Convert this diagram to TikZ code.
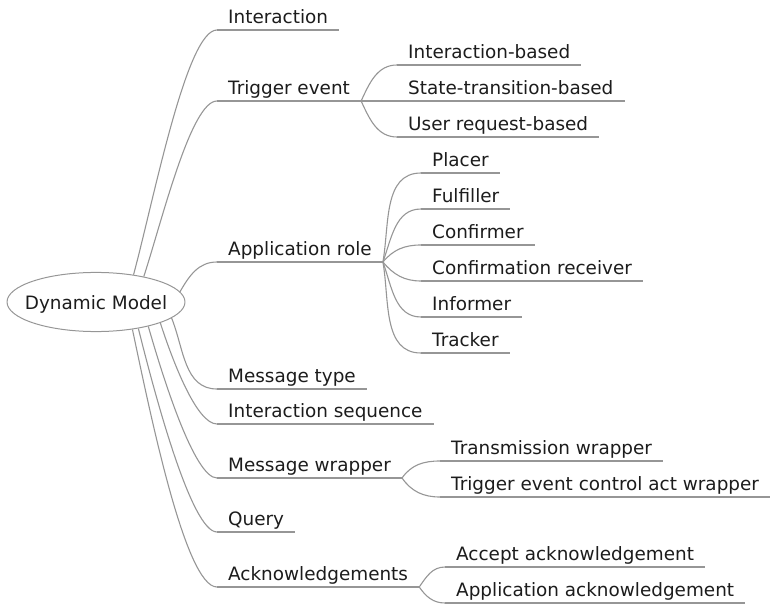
\documentclass[tikz,border=0pt]{standalone}
\usepackage{fontspec}
\setmainfont{DejaVu Sans}
\usepackage{tikz}
\usepackage{color}
\usetikzlibrary{shapes.geometric}

\definecolor{edgegray}{RGB}{150,150,150}
\definecolor{textgray}{RGB}{28,28,28}

\tikzset{
  topic/.style={anchor=south west, inner xsep=11pt, inner ysep=0pt, text height=14pt, text depth=6pt, text=textgray, font=\fontsize{18.4}{22}\selectfont},
  branch/.style={draw=edgegray, line width=1.1pt},
  rootnode/.style={ellipse, draw=edgegray, line width=1pt, inner xsep=-8.2pt, inner ysep=9.4pt, text height=19pt, text depth=4pt, text=textgray, font=\fontsize{18.4}{22}\selectfont}
}

\begin{document}
\begin{tikzpicture}[x=1pt,y=1pt]
\useasboundingbox (0,0) rectangle (773,603);

% Drawing central topic
\node[rootnode] (root) at (96,301) {Dynamic Model};

% Drawing main topics
\node[topic] (inter) at (217,573) {Interaction};
\node[topic] (trig) at (217,502) {Trigger event};
\node[topic] (approle) at (217,341) {Application role};
\node[topic] (msgtype) at (217,214) {Message type};
\node[topic] (intseq) at (217,179) {Interaction sequence};
\node[topic] (msgwrap) at (217,125) {Message wrapper};
\node[topic] (query) at (217,71) {Query};
\node[topic] (ack) at (217,16) {Acknowledgements};

% Drawing sub topics
\node[topic] (ibased) at (397,538) {Interaction-based};
\node[topic] (stbased) at (397,502) {State-transition-based};
\node[topic] (urbased) at (397,466) {User request-based};

\node[topic] (placer) at (421,430) {Placer};
\node[topic] (fulfiller) at (421,394) {Fulfiller};
\node[topic] (confirmer) at (421,358) {Confirmer};
\node[topic] (confrecv) at (421,322) {Confirmation receiver};
\node[topic] (informer) at (421,286) {Informer};
\node[topic] (tracker) at (421,250) {Tracker};

\node[topic] (transwrap) at (440,142) {Transmission wrapper};
\node[topic] (tecawrap) at (440,106) {Trigger event control act wrapper};

\node[topic] (acceptack) at (445,36) {Accept acknowledgement};
\node[topic] (appack) at (445,0) {Application acknowledgement};

% Drawing underlines
\foreach \n in {inter,trig,approle,msgtype,intseq,msgwrap,query,ack,ibased,stbased,urbased,placer,fulfiller,confirmer,confrecv,informer,tracker,transwrap,tecawrap,acceptack,appack}
  \draw[branch] (\n.south west) -- (\n.south east);

% Drawing connectors from central topic
\draw[branch] (root.36) to[out=75,in=180,out looseness=0.8,in looseness=0.3] (inter.south west);
\draw[branch] (root.28) to[out=72,in=180,out looseness=0.8,in looseness=0.35] (trig.south west);
\draw[branch] (root.7) to[out=60,in=180] (approle.south west);
\draw[branch] (root.-12.5) to[out=-68,in=180] (msgtype.south west);
\draw[branch] (root.-18) to[out=-72,in=180,out looseness=0.9,in looseness=0.45] (intseq.south west);
\draw[branch] (root.-25) to[out=-74,in=180,out looseness=0.8,in looseness=0.35] (msgwrap.south west);
\draw[branch] (root.-32) to[out=-76,in=180,out looseness=0.8,in looseness=0.3] (query.south west);
\draw[branch] (root.-37) to[out=-78,in=180,out looseness=0.8,in looseness=0.3] (ack.south west);

% Drawing connectors to sub topics
\draw[branch] (trig.south east) to[out=65,in=180] (ibased.south west);
\draw[branch] (trig.south east) -- (stbased.south west);
\draw[branch] (trig.south east) to[out=-65,in=180] (urbased.south west);

\draw[branch] (approle.south east) to[out=80,in=180] (placer.south west);
\draw[branch] (approle.south east) to[out=70,in=180] (fulfiller.south west);
\draw[branch] (approle.south east) to[out=50,in=180] (confirmer.south west);
\draw[branch] (approle.south east) to[out=-50,in=180] (confrecv.south west);
\draw[branch] (approle.south east) to[out=-70,in=180] (informer.south west);
\draw[branch] (approle.south east) to[out=-80,in=180] (tracker.south west);

\draw[branch] (msgwrap.south east) to[out=55,in=180] (transwrap.south west);
\draw[branch] (msgwrap.south east) to[out=-55,in=180] (tecawrap.south west);

\draw[branch] (ack.south east) to[out=55,in=180] (acceptack.south west);
\draw[branch] (ack.south east) to[out=-55,in=180] (appack.south west);
\end{tikzpicture}
\end{document}
